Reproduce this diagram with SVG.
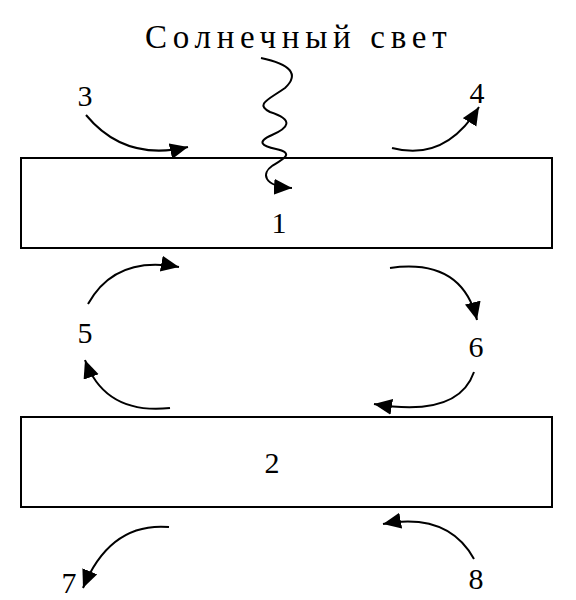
<svg xmlns="http://www.w3.org/2000/svg" width="576" height="600" viewBox="0 0 576 600">
<style>
.box{fill:#fff;stroke:#000;stroke-width:2}
.lbl{font-family:"Liberation Serif",serif;font-size:30px;fill:#000}
.arr{fill:none;stroke:#000;stroke-width:2;marker-end:url(#ah)}
</style>
<defs>
<marker id="ah" markerUnits="userSpaceOnUse" markerWidth="20" markerHeight="18" refX="18" refY="8" orient="auto">
<path d="M0,0 L18,8 L0,16 z" fill="#000"/>
</marker>
</defs>
<rect width="576" height="600" fill="#fff"/>
<text class="lbl" x="145" y="48" style="font-size:33px;letter-spacing:5.7px">Солнечный свет</text>
<g id="node1"><rect class="box" x="21" y="158" width="531" height="90"/><text class="lbl" x="279" y="233" text-anchor="middle">1</text></g>
<g id="node2"><rect class="box" x="21" y="417" width="531" height="90"/><text class="lbl" x="272" y="473" text-anchor="middle">2</text></g>
<g id="labels">
<text class="lbl" x="85" y="106" text-anchor="middle">3</text>
<text class="lbl" x="477" y="103" text-anchor="middle">4</text>
<text class="lbl" x="85" y="343" text-anchor="middle">5</text>
<text class="lbl" x="476" y="357" text-anchor="middle">6</text>
<text class="lbl" x="69" y="593" text-anchor="middle">7</text>
<text class="lbl" x="476" y="589" text-anchor="middle">8</text>
</g>
<g id="connectors">
<path class="arr" d="M261,58 C290,64 300,74 285,88 C268,100 255,104 270,112 C295,120 288,128 272,135 C256,142 262,146 276,149 C296,153 282,160 272,166 C262,173 262,186 292,188"/>
<path class="arr" d="M86,115 Q125,162 188,147"/>
<path class="arr" d="M392,148 Q445,162 479,107"/>
<path class="arr" d="M88,304 Q115,255 179,267"/>
<path class="arr" d="M170,408 Q105,415 85,360"/>
<path class="arr" d="M390,268 Q462,258 477,320"/>
<path class="arr" d="M474,372 Q458,418 374,404"/>
<path class="arr" d="M169,527 Q110,522 83,588"/>
<path class="arr" d="M474,559 Q448,512 383,524"/>
</g>
</svg>
